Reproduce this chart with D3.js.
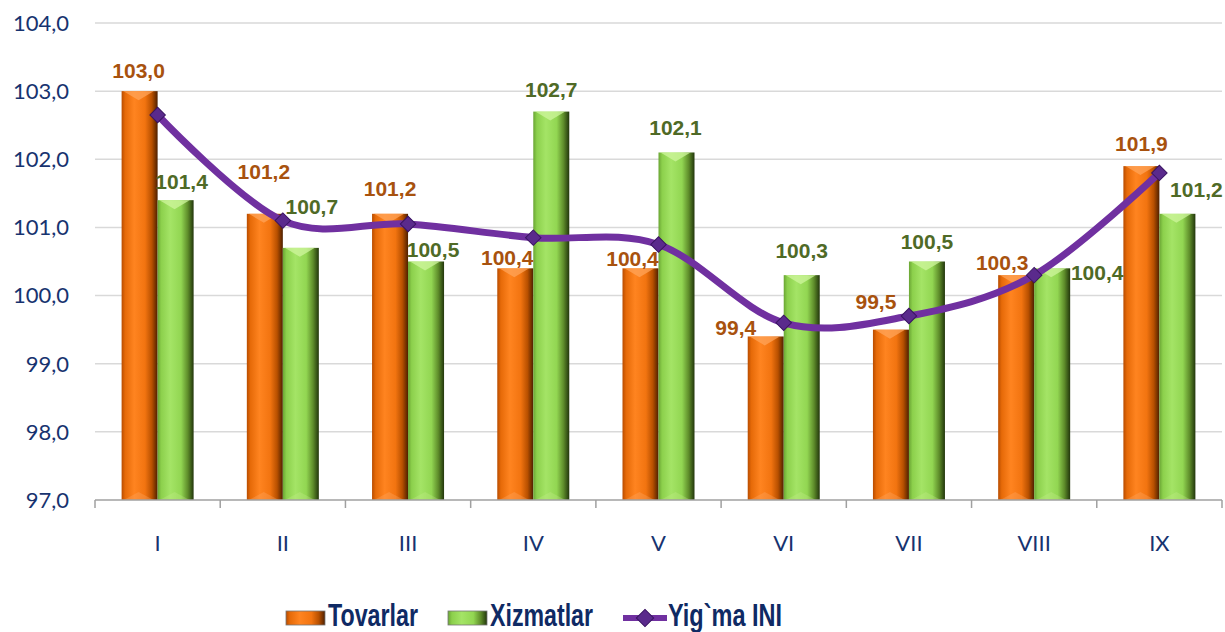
<!DOCTYPE html>
<html>
<head>
<meta charset="utf-8">
<script src="https://cdn.jsdelivr.net/npm/d3@7"></script>
<style>
  body { margin: 0; background: #fff; }
</style>
</head>
<body>
<svg id="chart"></svg>
<script>
/* Data */
const months = ['I', 'II', 'III', 'IV', 'V', 'VI', 'VII', 'VIII', 'IX'];
const tovarlar = [103.0, 101.2, 101.2, 100.4, 100.4, 99.4, 99.5, 100.3, 101.9];
const xizmatlar = [101.4, 100.7, 100.5, 102.7, 102.1, 100.3, 100.5, 100.4, 101.2];
const yigmaINI = [102.65, 101.1, 101.05, 100.85, 100.75, 99.6, 99.7, 100.3, 101.8];
const yTicks = [97, 98, 99, 100, 101, 102, 103, 104];
const seriesNames = ['Tovarlar', 'Xizmatlar', 'Yig`ma INI'];

/* Labels were dragged by hand in the original, so keep those nudges (px) */
const nudgeTovar = [[-1, -21], [-1, -42], [0, -25], [-8, -11], [-8, -10], [-30, -9], [-15, -28], [-14, -13], [0, -23]];
const nudgeXizmat = [[6, -19], [11, -41], [7, -12], [0, -22], [-1, -25], [0, -25], [0, -20], [45, 4], [19, -24]];

const W = 1225, H = 632;
const plot = { left: 95, right: 1222, top: 23, bottom: 500 };
const fmt = v => d3.format('.1f')(v).replace('.', ',');

const svg = d3.select('#chart').attr('width', W).attr('height', H);

/* Gradients for the bevelled bars */
const defs = svg.append('defs');
function hGrad(id, stops) {
    const g = defs.append('linearGradient').attr('id', id)
        .attr('x1', 0).attr('x2', 1).attr('y1', 0).attr('y2', 0);
    stops.forEach(s => g.append('stop').attr('offset', s[0]).attr('stop-color', s[1]));
}
hGrad('gOrange', [[0, '#b84c00'], [0.1, '#e66a08'], [0.35, '#ff8420'], [0.65, '#f27410'], [0.84, '#b85000'], [1, '#4e2000']]);
hGrad('gGreen', [[0, '#6aa534'], [0.1, '#8cd04c'], [0.35, '#a4e466'], [0.65, '#92d652'], [0.84, '#5e8c2a'], [1, '#22360c']]);

/* Scales */
const x = d3.scaleBand().domain(months).range([plot.left, plot.right]).padding(0);
const bw = x.bandwidth();
const x1 = d3.scaleBand().domain(['T', 'X']).range([bw / 2 - 36, bw / 2 + 36]).padding(0);
const y = d3.scaleLinear().domain([97, 104]).range([plot.bottom, plot.top]);

/* Gridlines */
svg.append('g').selectAll('line')
    .data(yTicks.slice(1))
    .join('line')
    .attr('x1', plot.left).attr('x2', plot.right)
    .attr('y1', d => y(d)).attr('y2', d => y(d))
    .attr('stroke', '#d9d9d9').attr('stroke-width', 1.5);

/* Y axis labels */
svg.append('g').selectAll('text')
    .data(yTicks)
    .join('text')
    .attr('x', 69).attr('y', d => y(d)).attr('dy', '0.36em')
    .attr('text-anchor', 'end')
    .style('font-family', 'Lato, "Open Sans", sans-serif')
    .style('font-size', '22px')
    .style('fill', '#17336f')
    .text(d => fmt(d));

/* Bars */
function drawBars(values, key, grad, capColor, botColor) {
    const g = svg.append('g');
    values.forEach((v, i) => {
        const x0 = x(months[i]) + x1(key);
        const w = x1.bandwidth();
        const top = y(v);
        g.append('rect')
            .attr('x', x0).attr('y', top)
            .attr('width', w).attr('height', plot.bottom - top)
            .attr('fill', `url(#${grad})`);
        g.append('polygon')
            .attr('points', `${x0 + 2},${top} ${x0 + w - 4},${top} ${x0 + w / 2 - 1},${top + 9}`)
            .attr('fill', capColor).attr('opacity', 0.75);
        g.append('polygon')
            .attr('points', `${x0 + 2},${plot.bottom} ${x0 + w - 4},${plot.bottom} ${x0 + w / 2 - 1},${plot.bottom - 8}`)
            .attr('fill', botColor).attr('opacity', 0.3);
    });
}
drawBars(tovarlar, 'T', 'gOrange', '#ffa45a', '#ffb070');
drawBars(xizmatlar, 'X', 'gGreen', '#cff59e', '#c8f090');

/* X axis */
const xAxis = svg.append('g');
xAxis.append('line')
    .attr('x1', plot.left).attr('x2', plot.right)
    .attr('y1', plot.bottom).attr('y2', plot.bottom)
    .attr('stroke', '#a0a0a0').attr('stroke-width', 1.5);
xAxis.selectAll('line.tick')
    .data(months.concat(['end']))
    .join('line')
    .attr('class', 'tick')
    .attr('x1', (d, i) => plot.left + i * bw).attr('x2', (d, i) => plot.left + i * bw)
    .attr('y1', plot.bottom).attr('y2', plot.bottom + 8)
    .attr('stroke', '#a0a0a0').attr('stroke-width', 1.5);
xAxis.selectAll('text')
    .data(months)
    .join('text')
    .attr('x', d => x(d) + bw / 2)
    .attr('y', 543).attr('dy', '0.36em')
    .attr('text-anchor', 'middle')
    .style('font-family', 'Lato, "Open Sans", sans-serif')
    .style('font-size', '22px')
    .style('fill', '#17336f')
    .text(d => d);

/* Line for the composite index */
const line = d3.line()
    .x((d, i) => x(months[i]) + bw / 2)
    .y(d => y(d))
    .curve(d3.curveCardinal.tension(0));

svg.append('path')
    .datum(yigmaINI)
    .attr('d', line)
    .attr('fill', 'none')
    .attr('stroke', '#7030a0')
    .attr('stroke-width', 7)
    .attr('stroke-linejoin', 'round');

const diamond = d3.symbol().type(d3.symbolSquare).size(120);
svg.append('g').selectAll('path')
    .data(yigmaINI)
    .join('path')
    .attr('d', diamond)
    .attr('transform', (d, i) => `translate(${x(months[i]) + bw / 2},${y(d)}) rotate(45)`)
    .attr('fill', '#5a2a8c')
    .attr('stroke', '#3a1462')
    .attr('stroke-width', 1);

/* Data labels */
function drawLabels(values, key, nudge, color) {
    svg.append('g').selectAll('text')
        .data(values)
        .join('text')
        .attr('x', (d, i) => x(months[i]) + x1(key) + x1.bandwidth() / 2 + nudge[i][0])
        .attr('y', (d, i) => y(d) + nudge[i][1])
        .attr('dy', '0.36em')
        .attr('text-anchor', 'middle')
        .style('font-family', '"Liberation Sans", Arial, sans-serif')
        .style('font-weight', 'bold')
        .style('font-size', '21px')
        .style('fill', color)
        .text(d => fmt(d));
}
drawLabels(tovarlar, 'T', nudgeTovar, '#a8520e');
drawLabels(xizmatlar, 'X', nudgeXizmat, '#4f6a26');

/* Legend (condensed bold text, squeezed to the original widths) */
const legend = svg.append('g')
    .style('font-family', '"Liberation Sans", Arial, sans-serif')
    .style('font-weight', 'bold')
    .style('font-size', '31px')
    .style('fill', '#0f2a64');

const legendX = [286, 448, 623];
const legendTextW = [90, 103, 114];
[['gOrange', 0], ['gGreen', 1]].forEach(([grad, i]) => {
    legend.append('rect')
        .attr('x', legendX[i]).attr('y', 611)
        .attr('width', 39).attr('height', 14)
        .attr('fill', `url(#${grad})`)
        .attr('stroke', '#777').attr('stroke-width', 0.8);
    legend.append('text')
        .attr('x', legendX[i] + 42).attr('y', 626)
        .attr('textLength', legendTextW[i])
        .attr('lengthAdjust', 'spacingAndGlyphs')
        .text(seriesNames[i]);
});
legend.append('line')
    .attr('x1', legendX[2]).attr('x2', legendX[2] + 44)
    .attr('y1', 618).attr('y2', 618)
    .attr('stroke', '#7030a0').attr('stroke-width', 6);
legend.append('path')
    .attr('d', d3.symbol().type(d3.symbolSquare).size(150))
    .attr('transform', `translate(${legendX[2] + 22},618) rotate(45)`)
    .attr('fill', '#5a2a8c').attr('stroke', '#3a1462');
legend.append('text')
    .attr('x', legendX[2] + 45).attr('y', 626)
    .attr('textLength', legendTextW[2])
    .attr('lengthAdjust', 'spacingAndGlyphs')
    .text(seriesNames[2]);
</script>
</body>
</html>
